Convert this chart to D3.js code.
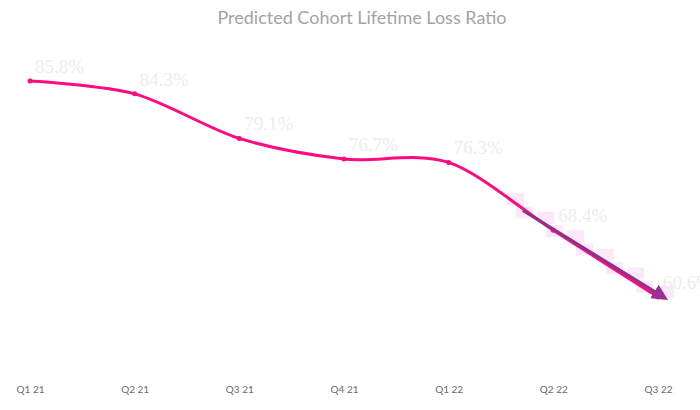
<!DOCTYPE html>
<html>
<head>
<meta charset="utf-8">
<script src="https://cdn.jsdelivr.net/npm/d3@7"></script>
<style>
  body { margin: 0; background: #fff; }
</style>
</head>
<body>
<div id="main"></div>
<script>
let quarters = ["Q1 21", "Q2 21", "Q3 21", "Q4 21", "Q1 22", "Q2 22", "Q3 22"];
let lossRatio = [85.8, 84.3, 79.1, 76.7, 76.3, 68.4, 60.6];
let labels = ["85.8%", "84.3%", "79.1%", "76.7%", "76.3%", "68.4%", "60.6%"];
let title = "Predicted Cohort Lifetime Loss Ratio";

let width = 700, height = 410;
let pink = "#ff0a80";
let purple = "#8d3489";

let data = quarters.map((q, i) => ({q: q, v: lossRatio[i], label: labels[i]}));

let svg = d3.select("#main")
    .append("svg")
    .attr("width", width)
    .attr("height", height);

var xScale = d3.scalePoint().domain(quarters).range([30, 658]);
var yScale = d3.scaleLinear().domain([55, 90]).range([345, 45]);

svg.append("text")
    .attr("x", 362)
    .attr("y", 24)
    .attr("text-anchor", "middle")
    .attr("font-family", "Lato")
    .attr("font-size", 18)
    .attr("fill", "#a3a3a3")
    .text(title);

// x axis labels only
let xAxis = svg.append("g")
    .attr("transform", "translate(0,386)")
    .call(d3.axisBottom(xScale).tickSize(0).tickPadding(0));
xAxis.select(".domain").remove();
xAxis.selectAll("text")
    .attr("font-family", "Lato")
    .attr("font-size", 10)
    .attr("fill", "#6a6a6a");

// forecast arrow geometry, from the last two segments
let p4 = [xScale(quarters[4]), yScale(lossRatio[4])];
let p5 = [xScale(quarters[5]), yScale(lossRatio[5])];
let p6 = [xScale(quarters[6]), yScale(lossRatio[6])];
let t = 0.71;
let a0 = [p4[0] + (p5[0] - p4[0]) * t, p4[1] + (p5[1] - p4[1]) * t];
let dx = p6[0] - a0[0], dy = p6[1] - a0[1];
let len = Math.sqrt(dx * dx + dy * dy);
let a1 = [p6[0] + dx / len * 9, p6[1] + dy / len * 3];

// pixelated pink glow along the arrow
let steps = d3.range(-1, Math.floor((a1[0] - a0[0]) / 15) + 1);
svg.append("g")
    .selectAll("rect")
    .data(steps)
    .enter()
    .append("rect")
    .attr("x", s => a0[0] + s * 15 - 4 + (s % 2 ? 3 : -3))
    .attr("y", s => a0[1] + (s * 15) * (a1[1] - a0[1]) / (a1[0] - a0[0]) - 6 + (s % 2 ? -2 : 2))
    .attr("width", 17)
    .attr("height", 12)
    .attr("fill", "#fde6fa")
    .attr("opacity", 0.9);

let line = d3.line()
    .x(d => xScale(d.q))
    .y(d => yScale(d.v))
    .curve(d3.curveCardinal.tension(0.1));

svg.append("path")
    .datum(data)
    .attr("d", line)
    .attr("fill", "none")
    .attr("stroke", pink)
    .attr("stroke-width", 3);

svg.append("g")
    .selectAll("circle")
    .data(data)
    .enter()
    .append("circle")
    .attr("cx", d => xScale(d.q))
    .attr("cy", d => yScale(d.v))
    .attr("r", 2.5)
    .attr("fill", pink);

svg.append("defs").append("marker")
    .attr("id", "head")
    .attr("viewBox", "0 0 10 10")
    .attr("refX", 2)
    .attr("refY", 5)
    .attr("markerWidth", 5)
    .attr("markerHeight", 5)
    .attr("markerUnits", "strokeWidth")
    .attr("orient", "auto")
    .append("path")
    .attr("d", "M0,0 L10,5 L0,10 Z")
    .attr("fill", "#9a2f94");

svg.append("line")
    .attr("x1", a0[0])
    .attr("y1", a0[1])
    .attr("x2", a1[0] - dx / len * 10)
    .attr("y2", a1[1] - dy / len * 10)
    .attr("stroke", purple)
    .attr("stroke-width", 3.2)
    .attr("marker-end", "url(#head)");

svg.append("g")
    .selectAll("text")
    .data(data)
    .enter()
    .append("text")
    .attr("x", d => xScale(d.q) + 5)
    .attr("y", d => yScale(d.v) - 8)
    .attr("font-family", "Liberation Serif")
    .attr("font-size", 19)
    .attr("fill", "#ededed")
    .text(d => d.label);
</script>
</body>
</html>
